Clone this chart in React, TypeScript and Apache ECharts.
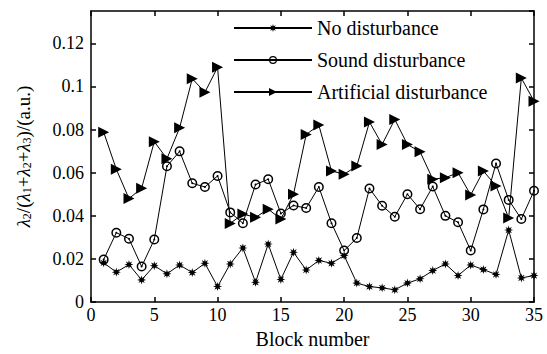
import React, { useEffect, useRef } from "react";
import * as echarts from "echarts";

const blocks = Array.from({ length: 35 }, (_, i) => i + 1);
const noDisturbance = [0.0182, 0.0139, 0.0174, 0.0103, 0.0169, 0.0131, 0.0172, 0.0137, 0.018, 0.0072, 0.0177, 0.0251, 0.0092, 0.0269, 0.0105, 0.0231, 0.0149, 0.0193, 0.018, 0.0216, 0.0088, 0.0072, 0.0066, 0.0057, 0.0088, 0.0108, 0.0146, 0.0177, 0.0123, 0.0172, 0.0151, 0.0128, 0.0334, 0.0112, 0.0123];
const soundDisturbance = [0.0197, 0.0322, 0.0294, 0.0165, 0.029, 0.063, 0.0699, 0.0551, 0.0534, 0.0585, 0.0416, 0.0366, 0.0545, 0.057, 0.0411, 0.0448, 0.0436, 0.0534, 0.0366, 0.0239, 0.0297, 0.0527, 0.0447, 0.0396, 0.05, 0.0431, 0.0536, 0.04, 0.037, 0.0239, 0.043, 0.0643, 0.0474, 0.0385, 0.0516];
const artificialDisturbance = [0.0788, 0.0616, 0.048, 0.0528, 0.0744, 0.0665, 0.0808, 0.1036, 0.0973, 0.1089, 0.0365, 0.0408, 0.0393, 0.0431, 0.0385, 0.05, 0.0777, 0.0821, 0.0608, 0.0593, 0.0631, 0.0835, 0.0731, 0.0847, 0.0731, 0.0697, 0.057, 0.0577, 0.06, 0.0497, 0.0608, 0.0539, 0.039, 0.1039, 0.0932];
const seriesNames = ["No disturbance", "Sound disturbance", "Artificial disturbance"];

const FONT = "serif";

function starPath(): string {
  const pts: string[] = [];
  for (let i = 0; i < 16; i++) {
    const a = (i * Math.PI) / 8;
    const r = i % 2 === 0 ? 10 : 4.5;
    pts.push(`${(10 + r * Math.sin(a)).toFixed(2)},${(10 - r * Math.cos(a)).toFixed(2)}`);
  }
  return "path://M" + pts.join(" L") + " Z";
}

const circleSym =
  "path://M5,0 A5,5 0 1 1 5,10 A5,5 0 1 1 5,0 Z M5,1.5 A3.5,3.5 0 1 0 5,8.5 A3.5,3.5 0 1 0 5,1.5 Z M5,4 A1,1 0 1 1 5,6 A1,1 0 1 1 5,4 Z";
const triSym = "path://M0,0 L10,5 L0,10 Z";

const tok = (size: number, extra: object = {}) => ({
  color: "#000",
  fontSize: size,
  fontFamily: FONT,
  ...extra,
});

export default function App() {
  const ref = useRef<HTMLDivElement>(null);
  useEffect(() => {
    if (!ref.current) return;
    const chart = echarts.init(ref.current, undefined, { renderer: "svg" });
    const mk = (arr: number[]) => arr.map((v, i) => [blocks[i], v]);
    const axisLineStyle = { color: "#000", width: 1.5 };
    const frame = {
      axisLine: { show: true, onZero: false, lineStyle: axisLineStyle },
      axisTick: { show: true, inside: true, length: 5, lineStyle: axisLineStyle },
      splitLine: { show: false },
    };
    chart.setOption({
      animation: false,
      backgroundColor: "#fff",
      grid: { left: 91, right: 13, top: 11, bottom: 48 },
      legend: {
        orient: "vertical",
        left: 233,
        top: 18,
        padding: 0,
        itemWidth: 78,
        itemHeight: 10,
        itemGap: 12,
        data: seriesNames,
        textStyle: tok(20),
      },
      xAxis: [
        {
          type: "value",
          min: 0,
          max: 35,
          interval: 5,
          ...frame,
          axisLabel: { ...tok(18), margin: 4 },
          name: "Block number",
          nameLocation: "middle",
          nameGap: 26,
          nameTextStyle: tok(20),
        },
        {
          type: "value",
          position: "top",
          min: 0,
          max: 35,
          interval: 5,
          ...frame,
          axisLabel: { show: false },
        },
      ],
      yAxis: [
        {
          type: "value",
          min: 0,
          max: 0.135,
          interval: 0.02,
          ...frame,
          axisLabel: { ...tok(18), margin: 7, showMaxLabel: false },
          name: "{l|λ}{s|2}{a|/(}{l|λ}{s|1}{a|+}{l|λ}{s|2}{a|+}{l|λ}{s|3}{a|)/(a.u.)}",
          nameLocation: "middle",
          nameGap: 58,
          nameRotate: 90,
          nameTextStyle: {
            ...tok(19),
            rich: {
              a: tok(19),
              l: tok(19, { fontStyle: "italic" }),
              s: tok(12, { verticalAlign: "bottom", padding: [8, 0, 0, 0] }),
            },
          },
        },
        {
          type: "value",
          position: "right",
          min: 0,
          max: 0.135,
          interval: 0.02,
          ...frame,
          axisLabel: { show: false },
        },
      ],
      series: [
        {
          name: seriesNames[0],
          type: "line",
          data: mk(noDisturbance),
          symbol: starPath(),
          symbolSize: 9,
          lineStyle: { color: "#000", width: 1 },
          itemStyle: { color: "#000" },
        },
        {
          name: seriesNames[1],
          type: "line",
          data: mk(soundDisturbance),
          symbol: circleSym,
          symbolSize: 10,
          lineStyle: { color: "#000", width: 1 },
          itemStyle: { color: "#000" },
        },
        {
          name: seriesNames[2],
          type: "line",
          data: mk(artificialDisturbance),
          symbol: triSym,
          symbolSize: 11,
          lineStyle: { color: "#000", width: 1 },
          itemStyle: { color: "#000" },
        },
      ],
    });
    return () => chart.dispose();
  }, []);
  return (
    <div
      ref={ref}
      style={{ position: "fixed", left: 0, top: 0, width: 547, height: 354 }}
    />
  );
}
